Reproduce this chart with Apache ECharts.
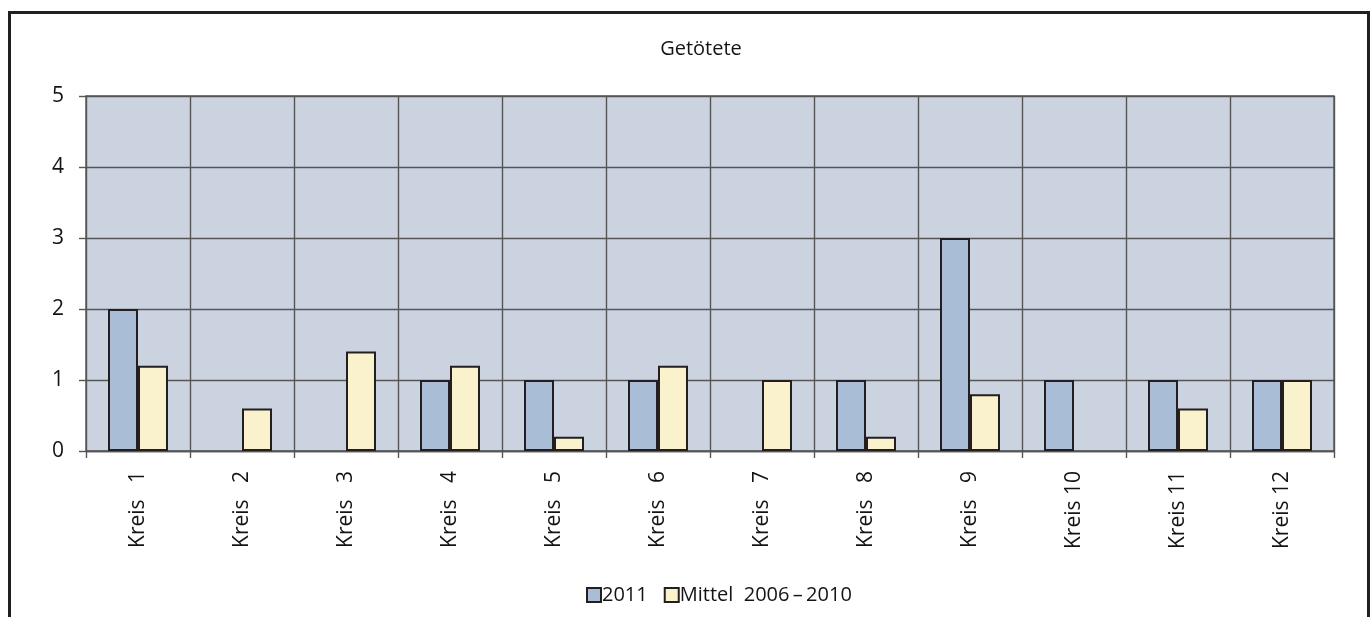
<!DOCTYPE html>
<html>
<head>
<meta charset="utf-8">
<script src="https://cdn.jsdelivr.net/npm/echarts@6/dist/echarts.min.js"></script>
<style>
  html, body { margin: 0; padding: 0; background: #ffffff; }
  #chart { width: 1371px; height: 617px; }
</style>
</head>
<body>
<div id="chart"></div>
<script>
// Getötete je Kreis: 2011 gegenüber dem Mittel 2006–2010
const categories = ['Kreis   1', 'Kreis   2', 'Kreis   3', 'Kreis   4', 'Kreis   5', 'Kreis   6',
                    'Kreis   7', 'Kreis   8', 'Kreis   9', 'Kreis 10', 'Kreis 11', 'Kreis 12'];
const values2011   = [2, 0, 0, 1, 1, 1, 0, 1, 3, 1, 1, 1];
const valuesMittel = [1.2, 0.6, 1.4, 1.2, 0.2, 1.2, 1.0, 0.2, 0.8, 0, 0.6, 1.0];
const yTicks = [0, 1, 2, 3, 4, 5];
const seriesNames = ['2011', 'Mittel  2006\u2009–\u20092010'];

const FONT = '"Open Sans", "Noto Sans", sans-serif';
const TEXT = '#141414';
const LINE = '#555555';

// a zero value gets no bar at all
const asBars = arr => arr.map(v => (v === 0 ? '-' : v));

const chart = echarts.init(document.getElementById('chart'), null, { renderer: 'canvas' });

chart.setOption({
  animation: false,
  backgroundColor: '#ffffff',
  textStyle: { fontFamily: FONT, color: TEXT },
  title: {
    text: 'Getötete',
    left: 696,
    textAlign: 'center',
    top: 34,
    textStyle: { fontFamily: FONT, fontSize: 20, fontWeight: 'normal', color: TEXT }
  },
  legend: {
    left: 581,
    top: 580,
    icon: 'rect',
    itemWidth: 14,
    itemHeight: 14,
    itemGap: 16,
    textStyle: { fontFamily: FONT, fontSize: 20, color: TEXT, padding: [0, 0, 0, -4] },
    data: seriesNames
  },
  grid: {
    left: 86,
    right: 37,
    top: 96,
    bottom: 166,
    show: true,
    backgroundColor: '#ccd3e0',
    borderColor: LINE,
    borderWidth: 1.4
  },
  xAxis: {
    type: 'category',
    data: categories,
    boundaryGap: true,
    axisLine: { show: true, lineStyle: { color: LINE, width: 1.4 } },
    axisTick: { show: true, interval: 0, length: 7, lineStyle: { color: LINE, width: 1.4 } },
    splitLine: { show: true, interval: 0, lineStyle: { color: LINE, width: 1.4 } },
    axisLabel: {
      interval: 0,
      rotate: 90,
      margin: 20,
      fontFamily: FONT,
      fontSize: 21,
      color: TEXT
    }
  },
  yAxis: {
    type: 'value',
    min: yTicks[0],
    max: yTicks[yTicks.length - 1],
    interval: 1,
    axisLine: { show: false },
    axisTick: { show: true, length: 7, lineStyle: { color: LINE, width: 1.4 } },
    splitLine: { show: true, lineStyle: { color: LINE, width: 1.4 } },
    axisLabel: {
      margin: 22,
      fontFamily: FONT,
      fontSize: 21,
      color: TEXT,
      formatter: v => (yTicks.includes(v) ? String(v) : '')
    }
  },
  series: [
    {
      name: seriesNames[0],
      type: 'bar',
      data: asBars(values2011),
      barWidth: 30,
      barGap: '0%',
      itemStyle: { color: '#a9bdd6', borderColor: '#231f20', borderWidth: 2 }
    },
    {
      name: seriesNames[1],
      type: 'bar',
      data: asBars(valuesMittel),
      barWidth: 30,
      barGap: '0%',
      itemStyle: { color: '#faf2cc', borderColor: '#231f20', borderWidth: 2 }
    }
  ],
  graphic: [
    {
      type: 'rect',
      silent: true,
      z: 100,
      shape: { x: 9.5, y: 12.5, width: 1359, height: 640 },
      style: { fill: 'none', stroke: '#231f20', lineWidth: 3 }
    }
  ]
});
</script>
</body>
</html>
